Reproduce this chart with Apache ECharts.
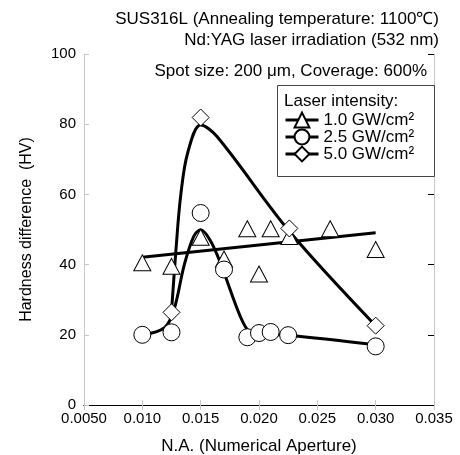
<!DOCTYPE html>
<html>
<head>
<meta charset="utf-8">
<script src="https://cdn.jsdelivr.net/npm/echarts@6/dist/echarts.min.js"></script>
<style>
  html, body { margin: 0; padding: 0; background: #fff; }
  #chart { width: 460px; height: 455px; }
</style>
</head>
<body>
<div id="chart"></div>
<script>
// x tick labels (N.A.)
var xTickLabels = ['0.0050', '0.010', '0.015', '0.020', '0.025', '0.030', '0.035'];
var seriesNames = ['1.0 GW/cm²', '2.5 GW/cm²', '5.0 GW/cm²'];

// measured points
var na1 = [0.010, 0.0125, 0.015, 0.017, 0.019, 0.020, 0.021, 0.0226, 0.0261, 0.030];
var hv1 = [40.5, 39.5, 47.8, 41.6, 50.2, 37.3, 50.2, 48.0, 50.2, 44.3];
var na2 = [0.010, 0.0125, 0.015, 0.017, 0.019, 0.020, 0.021, 0.0225, 0.030];
var hv2 = [20.0, 20.7, 54.7, 38.6, 19.3, 20.5, 20.8, 19.9, 16.7];
var na3 = [0.0125, 0.015, 0.0226, 0.030];
var hv3 = [26.4, 81.9, 50.3, 22.6];

// fitted lines
var fitNa1 = [0.010, 0.030];
var fitHv1 = [42.1, 49.1];
var fitNa2 = [0.010, 0.0119, 0.0127, 0.0136, 0.0144, 0.015, 0.0158, 0.0167, 0.0184, 0.0192, 0.020, 0.0225, 0.030];
var fitHv2 = [20.0, 22.0, 27.0, 40.0, 48.0, 49.9, 47.0, 40.4, 25.2, 20.8, 20.3, 19.9, 17.2];
var fitNa3 = [0.0125, 0.0129, 0.0133, 0.0139, 0.015, 0.0164, 0.0226, 0.030];
var fitHv3 = [26.6, 45.0, 60.0, 72.0, 79.8, 76.5, 49.5, 22.6];

function pairs(xs, ys) {
  return xs.map(function (x, i) { return [x, ys[i]]; });
}

var font = "'Liberation Sans', Arial, sans-serif";
var chart = echarts.init(document.getElementById('chart'));

function markerSeries(name, xs, ys, symbol, size, z) {
  return {
    name: name,
    type: 'line',
    data: pairs(xs, ys),
    symbol: symbol,
    symbolSize: size,
    showSymbol: true,
    lineStyle: { opacity: 0 },
    itemStyle: { color: '#fff', borderColor: '#000', borderWidth: 1 },
    z: z,
    silent: true,
    animation: false
  };
}

function curveSeries(xs, ys, smooth) {
  return {
    name: 'fit',
    type: 'line',
    data: pairs(xs, ys),
    symbol: 'none',
    smooth: smooth,
    lineStyle: { color: '#000', width: 3 },
    z: 2,
    silent: true,
    animation: false
  };
}

var titleStyle = { fontFamily: font, fontSize: 17, fontWeight: 'normal', color: '#000' };

var option = {
  animation: false,
  textStyle: { fontFamily: font, color: '#000' },
  title: [
    { text: 'SUS316L (Annealing temperature: 1100℃)', right: 21, top: 11, padding: 0, textStyle: titleStyle },
    { text: 'Nd:YAG laser irradiation (532 nm)', right: 21, top: 32, padding: 0, textStyle: titleStyle },
    { text: 'Spot size: 200 μm, Coverage: 600%', right: 33, top: 63, padding: 0, textStyle: titleStyle }
  ],
  graphic: [
    {
      type: 'rect',
      shape: { x: 277.5, y: 85.5, width: 157, height: 91 },
      style: { fill: '#fff', stroke: '#444', lineWidth: 1 },
      z: 10
    },
    {
      type: 'text',
      x: 284, y: 101,
      style: { text: 'Laser intensity:', font: '17px ' + font, fill: '#000', textVerticalAlign: 'middle' },
      z: 11
    }
  ],
  legend: {
    data: seriesNames,
    orient: 'vertical',
    left: 284,
    top: 111.5,
    padding: 0,
    itemWidth: 33,
    itemHeight: 18.5,
    itemGap: 0,
    z: 12,
    selectedMode: false,
    lineStyle: { color: '#000', width: 3, opacity: 1 },
    textStyle: { fontFamily: font, fontSize: 17, color: '#000' }
  },
  grid: { left: 84, right: 26, top: 54, bottom: 50, outerBoundsMode: 'none' },
  xAxis: [
    {
      type: 'value',
      min: 0.005, max: 0.035, interval: 0.005,
      name: 'N.A. (Numerical Aperture)',
      nameLocation: 'middle',
      nameGap: 33,
      nameTextStyle: { fontFamily: font, fontSize: 17, color: '#000' },
      axisLine: { lineStyle: { color: '#000', width: 1 } },
      axisTick: { inside: true, length: 5, lineStyle: { color: '#c8c8c8' } },
      axisLabel: {
        margin: 6, fontFamily: font, fontSize: 15, color: '#000',
        formatter: function (v) {
          return xTickLabels[Math.round((v - 0.005) / 0.005)];
        }
      },
      splitLine: { show: false }
    },
    {
      type: 'value',
      position: 'top',
      min: 0.005, max: 0.035, interval: 0.005,
      axisLine: { lineStyle: { color: '#000', width: 1 } },
      axisTick: { inside: true, length: 5, lineStyle: { color: '#c8c8c8' } },
      axisLabel: { show: false },
      splitLine: { show: false }
    }
  ],
  yAxis: [
    {
      type: 'value',
      min: 0, max: 100, interval: 20,
      name: 'Hardness difference  (HV)',
      nameLocation: 'middle',
      nameGap: 49,
      nameTextStyle: { fontFamily: font, fontSize: 16, color: '#000' },
      axisLine: { show: true, lineStyle: { color: '#c8c8c8', width: 1 } },
      axisTick: { show: true, inside: true, length: 5, lineStyle: { color: '#c8c8c8' } },
      axisLabel: { margin: 8, fontFamily: font, fontSize: 15, color: '#000' },
      splitLine: { show: false }
    },
    {
      type: 'value',
      position: 'right',
      min: 0, max: 100, interval: 20,
      axisLine: { show: true, lineStyle: { color: '#c8c8c8', width: 1 } },
      axisTick: { show: true, inside: true, length: 6, lineStyle: { color: '#000' } },
      axisLabel: { show: false },
      splitLine: { show: false }
    }
  ],
  series: [
    curveSeries(fitNa1, fitHv1, false),
    curveSeries(fitNa2, fitHv2, 0.35),
    curveSeries(fitNa3, fitHv3, 0.35),
    markerSeries(seriesNames[0], na1, hv1, 'triangle', [17, 16], 5),
    markerSeries(seriesNames[1], na2, hv2, 'circle', 17, 6),
    markerSeries(seriesNames[2], na3, hv3, 'diamond', 17, 7)
  ]
};

chart.setOption(option);
</script>
</body>
</html>
